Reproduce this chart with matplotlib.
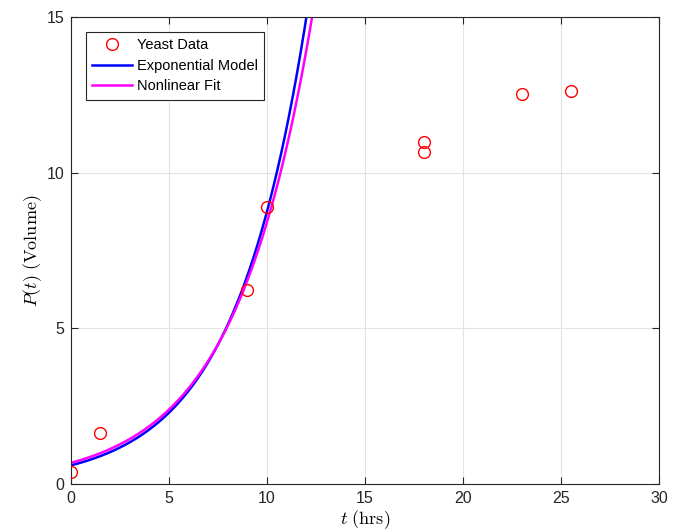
import matplotlib
matplotlib.use("Agg")
import matplotlib.pyplot as plt
import numpy as np

t_data = [0, 1.5, 9, 10, 18, 18, 23, 25.5]
p_data = [0.37, 1.65, 6.22, 8.9, 10.99, 10.67, 12.53, 12.62]

# model parameters, P(t) = a * exp(k t)
exp_a, exp_k = 0.60, 0.268
fit_a, fit_k = 0.68, 0.2515

plt.rcParams['font.family'] = ['Liberation Sans', 'DejaVu Sans']
plt.rcParams['mathtext.fontset'] = 'cm'

fig = plt.figure(figsize=(6.78, 5.31), dpi=100)
ax = fig.add_axes([0.1047, 0.0885, 0.8673, 0.8795])

t = np.linspace(0, 30, 600)
ax.plot(t_data, p_data, 'o', mfc='none', mec='red', ms=8.5, mew=1.0, label='Yeast Data', zorder=4)
ax.plot(t, exp_a * np.exp(exp_k * t), color='blue', lw=1.8, label='Exponential Model')
ax.plot(t, fit_a * np.exp(fit_k * t), color='magenta', lw=1.8, label='Nonlinear Fit')

ax.set_xlim(0, 30)
ax.set_ylim(0, 15)
ax.set_xticks([0, 5, 10, 15, 20, 25, 30])
ax.set_yticks([0, 5, 10, 15])
ax.grid(True, color='#e3e3e3', lw=0.8)
ax.set_axisbelow(True)
ax.tick_params(direction='in', top=True, right=True, labelsize=11.5, colors='#262626', length=5, pad=5)
for s in ax.spines.values():
    s.set_color('#262626')
    s.set_linewidth(0.8)

ax.set_xlabel(r'$t\ \mathrm{(hrs)}$', fontsize=13, labelpad=2)
ax.set_ylabel(r'$P(t)\ \mathrm{(Volume)}$', fontsize=13, labelpad=2)

leg = ax.legend(loc='upper left', fontsize=10.5, fancybox=False, framealpha=1,
                edgecolor='#262626', borderaxespad=1.0, handlelength=2.7,
                labelspacing=0.45, borderpad=0.45, handletextpad=0.35)
leg.get_frame().set_linewidth(0.8)

fig.savefig('out.png', dpi=100)
